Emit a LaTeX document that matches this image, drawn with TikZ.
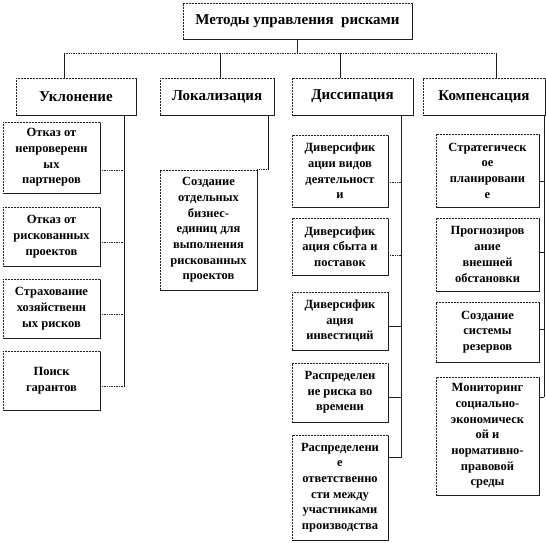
\documentclass[tikz,border=0pt]{standalone}
\usepackage{fontspec}
\setmainfont{Liberation Serif}
\usepackage{tikz}
\usetikzlibrary{positioning,shadows,calc}
\definecolor{rkline}{rgb}{0.12,0.12,0.12}

\begin{document}
\begin{tikzpicture}[
  x=1pt, y=-1pt,
  box/.style={draw=rkline, dash pattern=on 2pt off 1pt, fill=white, align=center,
              inner sep=1pt, line width=0.6pt,
              drop shadow={shadow xshift=0.9pt, shadow yshift=-0.9pt,
                           fill=rkline, opacity=1}},
  head/.style={box, font=\bfseries\fontsize{15}{18}\selectfont},
  kid/.style={box, font=\bfseries\fontsize{12.5}{15.7}\selectfont},
  conn/.style={rkline, line width=0.7pt},
  bus/.style={conn, densely dotted}
]
\useasboundingbox (0,0) rectangle (546,543);

% --- top and first level ---
\node[head, minimum width=229, minimum height=36] (top) at (297.5,21)
  {Методы управления \ рисками};

\foreach \nm/\x/\w/\t in {uk/76/120/Уклонение, lok/217/114/Локализация,
                          dis/352.5/121/Диссипация, komp/484/122/Компенсация}
  \node[head, minimum width=\w, minimum height=37] (\nm) at (\x,96.5) {\t};

\coordinate (bus) at ($(top.south)+(0,14)$);
\coordinate (inUk) at ([xshift=-12pt]uk.north);
\coordinate (inLok) at ([xshift=3pt]lok.north);
\coordinate (inDis) at ([xshift=-12.5pt]dis.north);
\coordinate (inKomp) at ([xshift=12pt]komp.north);

\draw[conn] (top.south) -- (bus);
\draw[bus] (bus -| inUk) -- (bus -| inKomp);
\foreach \c in {inUk,inLok,inDis,inKomp}
  \draw[conn] (bus -| \c) -- (\c);

% --- Уклонение ---
\foreach \n/\y/\h/\d/\t in {
    1/157.5/71/13/{Отказ от\\непроверенн\\ых\\партнеров},
    2/236.5/59/6/{Отказ от\\рискованных\\проектов},
    3/308.5/59/6/{Страхование\\хозяйственн\\ых рисков},
    4/380.5/59/6/{Поиск\\гарантов}} {
  \node[kid, minimum width=97, minimum height=\h] (uk\n) at (51.5,\y) {\t};
  \coordinate (cUk\n) at ($(uk\n.east)+(0,\d)$);
}
\coordinate (sUk) at ([xshift=-12pt]uk.south east);
\draw[conn] (sUk) -- (sUk |- cUk4);
\foreach \n in {1,...,4}
  \draw[bus] (cUk\n) -- (cUk\n -| sUk);

% --- Локализация ---
\node[kid, minimum width=97, minimum height=120] (lok1) at (208.5,230)
  {Создание\\отдельных\\бизнес-\\единиц для\\выполнения\\рискованных\\проектов};
\coordinate (sLok) at ([xshift=-6pt]lok.south east);
\draw[conn] (sLok) -- (sLok |- lok1.north east);
\draw[bus] (sLok |- lok1.north east) -- (lok1.north east);

% --- Диссипация ---
\coordinate (sDis) at ([xshift=-12pt]dis.south east);
\foreach \n/\y/\h/\d/\s/\t in {
    1/171/72/11/densely dotted/{Диверсифик\\ации видов\\деятельност\\и},
    2/246.5/57/8.5/densely dotted/{Диверсифик\\ация сбыта и\\поставок},
    3/321/58/5/solid/{Диверсифик\\ация\\инвестиций},
    4/392.5/59/4.5/solid/{Распределен\\ие риска во\\времени},
    5/487.5/105/-30/solid/{Распределени\\е\\ответственно\\сти между\\участниками\\производства}} {
  \node[kid, minimum width=96, minimum height=\h] (dis\n) at (340,\y) {\t};
  \coordinate (cDis\n) at ($(dis\n.east)+(0,\d)$);
  \draw[conn, \s] (cDis\n) -- (cDis\n -| sDis);
}
\draw[conn] (sDis) -- (sDis |- cDis5);

% --- Компенсация ---
\foreach \n/\y/\h/\d/\t in {
    1/170.5/73/10.5/{Стратегическ\\ое\\планировани\\е},
    2/254.5/73/-2.5/{Прогнозиров\\ание\\внешней\\обстановки},
    3/332/60/-3/{Создание\\системы\\резервов},
    4/436/118/-39/{Мониторинг\\социально-\\экономическ\\ой и\\нормативно-\\правовой\\среды}} {
  \node[kid, minimum width=103, minimum height=\h] (komp\n) at (487.5,\y) {\t};
  \coordinate (cKomp\n) at ($(komp\n.east)+(0,\d)$);
}
\coordinate (sKomp) at ([xshift=-1pt]komp.south east);
\draw[conn] (sKomp) -- (sKomp |- cKomp4);
\foreach \n in {1,...,4}
  \draw[conn] (cKomp\n) -- (cKomp\n -| sKomp);

\end{tikzpicture}
\end{document}
